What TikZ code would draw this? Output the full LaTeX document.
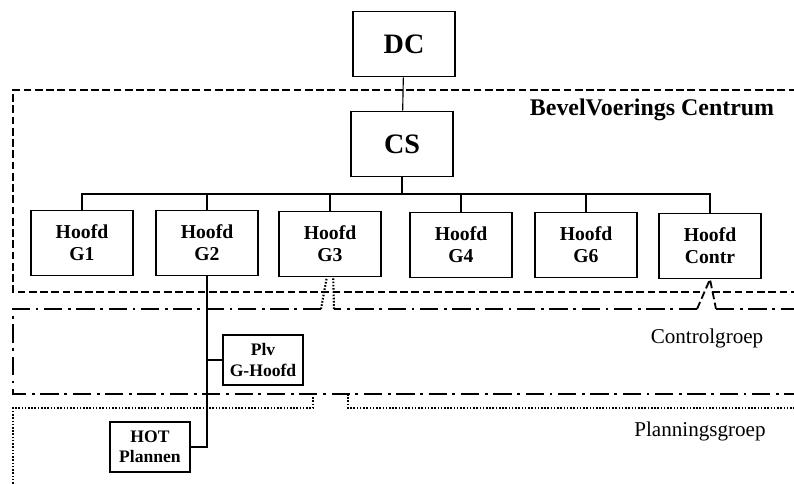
\documentclass[tikz,border=0pt]{standalone}
\usepackage{fontspec}
\setmainfont{Liberation Serif}
\usepackage{tikz}

\begin{document}
\begin{tikzpicture}[x=0.025cm,y=-0.025cm]
    \clip (0,0) rectangle (794,484);

    \tikzstyle{every node}=[draw,rectangle,line width=1.1pt,inner sep=0pt,align=center,font=\bfseries\fontsize{14}{15.5}\selectfont]
    \tikzstyle{hoofd}=[minimum width=2.55cm,minimum height=1.625cm]
    \tikzstyle{groot}=[minimum width=2.55cm,minimum height=1.625cm,font=\bfseries\fontsize{20}{24}\selectfont]
    \tikzstyle{klein}=[minimum width=2cm,minimum height=1.25cm,font=\bfseries\fontsize{12.5}{14.5}\selectfont]

    \node[groot](dc) at (404,44){DC};
    \node[groot](cs) at (402,144){CS};
    \node[hoofd](g1) at (82,243){Hoofd\\G1};
    \node[hoofd](g2) at (207,243){Hoofd\\G2};
    \node[hoofd](g3) at (330,244){Hoofd\\G3};
    \node[hoofd](g4) at (461,245){Hoofd\\G4};
    \node[hoofd](g6) at (586,245){Hoofd\\G6};
    \node[hoofd](contr) at (710,246){Hoofd\\Contr};
    \node[klein](plv) at (263,360){Plv\\G-Hoofd};
    \node[klein](hot) at (150,447){HOT\\Plannen};

    % lijnen
    \tikzstyle{lijn}=[line width=0.8pt]
    \coordinate (bus) at (402,194);
    \draw[lijn](dc)--(cs);
    \draw[lijn](cs)--(bus);
    \draw[lijn](g1.north)|-(bus)-|(contr.north);
    \draw[lijn](g2.north)--(g2.north|-bus);
    \draw[lijn](g3.north)--(g3.north|-bus);
    \draw[lijn](g4.north)--(g4.north|-bus);
    \draw[lijn](g6.north)--(g6.north|-bus);
    \draw[lijn](g2.south)|-(hot.east);
    \draw[lijn](plv.west)--(plv.west-|g2.south);

    \tikzstyle{every node}=[]

    % groepen
    \tikzstyle{bvc}=[line width=1.3pt,dash pattern=on 5.5pt off 2.5pt]
    \tikzstyle{ctrl}=[line width=1.4pt,dash pattern=on 13pt off 4pt on 2pt off 4pt]
    \tikzstyle{plan}=[line width=1.5pt,dash pattern=on 1.1pt off 1.2pt]

    \coordinate (c1) at (321,309);
    \coordinate (c2) at (334,309);
    \coordinate (c3) at (697,309);
    \coordinate (c4) at (716,309);

    \draw[bvc](830,90)--(13,90)--(13,292)--(703,292);
    \draw[bvc](712,292)--(830,292);
    \node[font=\bfseries\fontsize{17}{20}\selectfont](bvclabel) at (652,110){BevelVoerings Centrum};

    \draw[ctrl](c1)--(13,309)--(13,394)--(830,394);
    \draw[ctrl](c3)--(c2);
    \draw[ctrl](c4)--(830,309);
    \draw[bvc](c3)--(contr.south)--(c4);
    \draw[plan](c1)--([xshift=-0.08cm]g3.south);
    \draw[plan](c2)--([xshift=0.08cm]g3.south);
    \node[font=\fontsize{15}{18}\selectfont](ctrllabel) at (707,338){Controlgroep};

    \draw[plan](13,490)--(13,408)--(313,408)--(313,394);
    \draw[plan](348,394)--(348,408)--(830,408);
    \node[font=\fontsize{15}{18}\selectfont](planlabel) at (700,431){Planningsgroep};

\end{tikzpicture}
\end{document}
